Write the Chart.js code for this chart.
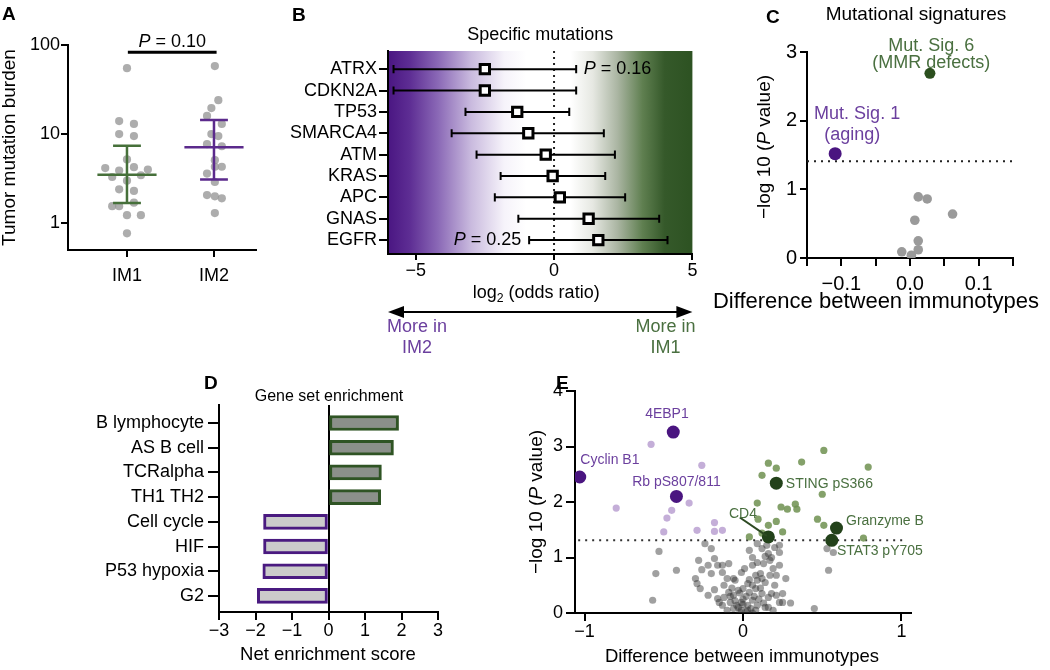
<!DOCTYPE html>
<html>
<head>
<meta charset="utf-8">
<script src="https://cdn.jsdelivr.net/npm/chart.js@4.4.1/dist/chart.umd.min.js"></script>
<style>
html,body{margin:0;padding:0;background:#fff;}
#wrap{position:relative;width:1050px;height:670px;overflow:hidden;background:#fff;}
#wrap canvas{position:absolute;}
.pl{position:absolute;font:bold 19px 'Liberation Sans',Arial,sans-serif;line-height:1;color:#000;}
</style>
</head>
<body>
<div id="wrap">
  <canvas id="cA" width="262" height="300" style="left:0px;top:0px"></canvas>
  <canvas id="cB" width="440" height="360" style="left:262px;top:0px"></canvas>
  <canvas id="cC" width="350" height="320" style="left:700px;top:0px"></canvas>
  <canvas id="cD" width="460" height="295" style="left:0px;top:375px"></canvas>
  <canvas id="cE" width="530" height="295" style="left:520px;top:375px"></canvas>
  <div class="pl" style="left:2px;top:4px">A</div>
  <div class="pl" style="left:292px;top:5px">B</div>
  <div class="pl" style="left:766px;top:7px">C</div>
  <div class="pl" style="left:204px;top:373px">D</div>
  <div class="pl" style="left:556px;top:373px">E</div>
</div>
<script>
// ---------------- DATA ----------------
// Panel A: tumor mutation burden
const groupsA = ['IM1', 'IM2'];
const tmbIM1 = [55, 14, 13, 10, 9.5, 5.2, 4.15, 3.9, 4.25, 4.0, 3.3, 3.0, 3.45, 2.4, 2.3, 1.55, 1.55, 1.7, 1.23, 1.23, 0.77];
const jitIM1 = [1.00, 0.91, 1.08, 0.91, 1.08, 1.00, 0.75, 0.91, 1.08, 1.24, 0.83, 1.00, 1.16, 0.91, 1.08, 0.83, 0.91, 1.08, 1.00, 1.16, 1.00];
const tmbIM2 = [58, 24, 19.6, 16, 13, 10, 9.5, 7.7, 7.3, 5.1, 4.3, 4.3, 3.6, 2.9, 2.07, 2.0, 1.9, 1.3];
const jitIM2 = [2.01, 2.05, 1.97, 1.92, 2.09, 1.97, 2.05, 1.92, 2.09, 2.01, 2.01, 2.09, 1.92, 2.01, 1.92, 2.01, 2.09, 2.01];
const medA = [3.5, 7.1];
const loA = [1.68, 3.1];
const hiA = [7.4, 14.4];
const pA = '0.10';
const pBarY = 83;
const pBarX = [1.01, 2.03];

// Panel B: specific mutations, log2 odds ratio
const genesB = ['ATRX', 'CDKN2A', 'TP53', 'SMARCA4', 'ATM', 'KRAS', 'APC', 'GNAS', 'EGFR'];
const orB = [-2.5, -2.5, -1.33, -0.93, -0.3, -0.05, 0.21, 1.25, 1.6];
const loB = [-5.8, -5.8, -3.2, -3.7, -2.8, -1.93, -2.14, -1.29, -0.9];
const hiB = [0.8, 0.8, 0.55, 1.8, 2.2, 1.85, 2.57, 3.8, 4.1];
const pB = ['0.16', '0.25'];

// Panel C: mutational signatures
const sigGrayC = [[0.012, 0.89], [0.025, 0.86], [0.062, 0.64], [0.007, 0.55], [0.012, 0.25], [-0.012, 0.09], [0.002, 0.04], [0.012, 0.12]];
const sigHiNames = ['Mut. Sig. 1', 'Mut. Sig. 6'];
const sigHiX = [-0.109, 0.029];
const sigHiY = [1.52, 2.69];
const threshC = 1.41;

// Panel D: gene set enrichment
const geneSetsD = ['B lymphocyte', 'AS B cell', 'TCRalpha', 'TH1 TH2', 'Cell cycle', 'HIF', 'P53 hypoxia', 'G2'];
const nesD = [1.92, 1.78, 1.45, 1.43, -1.78, -1.78, -1.8, -1.95];

// Panel E: protein volcano
const hiNamesE = ['4EBP1', 'Cyclin B1', 'Rb pS807/811', 'STING pS366', 'CD4', 'Granzyme B', 'STAT3 pY705'];
const hiXE = [-0.44, -1.03, -0.42, 0.21, 0.16, 0.59, 0.56];
const hiYE = [3.26, 2.45, 2.1, 2.34, 1.37, 1.53, 1.31];
const lightPurpleE = [[-0.58, 3.04], [-0.26, 2.66], [-0.8, 1.89], [-0.45, 1.85], [-0.34, 1.98], [-0.48, 1.71], [-0.5, 1.46], [-0.29, 1.49], [-0.18, 1.63], [-0.18, 1.47], [-0.13, 1.49]];
const lightGreenE = [[0.51, 2.93], [0.16, 2.7], [0.37, 2.72], [0.21, 2.61], [0.79, 2.63], [0.12, 2.48], [0.5, 2.14], [0.09, 1.98], [0.24, 1.91], [0.28, 1.87], [0.33, 1.96], [0.34, 1.87], [0.095, 1.69], [0.16, 1.58], [0.21, 1.65], [0.47, 1.69], [0.51, 1.58], [0.25, 1.46], [0.04, 1.37], [0.12, 1.44], [0.76, 1.35]];
const grayE = [[-0.24,1.25],[-0.20,1.16],[0.09,1.25],[0.12,1.16],[0.04,1.13],[0.16,1.07],[0.23,1.09],[0.23,1.22],[0.06,1.00],[0.09,0.91],
[0.13,0.89],[0.17,0.95],[-0.28,0.95],[-0.18,0.98],[-0.22,0.86],[-0.16,0.86],[-0.13,0.86],[-0.09,0.89],[-0.20,0.71],[-0.13,0.73],
[-0.10,0.62],[-0.05,0.59],[-0.01,0.73],[0.06,0.86],[0.11,0.71],[0.17,0.68],[0.21,0.68],[0.23,0.86],[0.14,0.55],[0.09,0.59],
[0.03,0.53],[-0.30,0.62],[-0.29,0.53],[-0.27,0.44],[-0.22,0.32],[-0.16,0.26],[-0.15,0.19],[-0.09,0.37],[-0.06,0.32],[-0.03,0.41],
[0.00,0.44],[0.04,0.37],[0.08,0.44],[0.12,0.35],[0.16,0.28],[0.21,0.32],[0.23,0.19],[-0.08,0.19],[-0.04,0.14],[-0.01,0.19],
[0.03,0.14],[0.06,0.23],[0.09,0.14],[-0.06,0.08],[-0.01,0.05],[0.03,0.05],[-0.10,0.05],[0.08,0.05],[0.14,0.10],[-0.13,0.14],
[-0.12,0.50],[0.25,0.35],[0.25,0.19],[0.18,0.35],[0.16,0.10],[0.19,0.05],[-0.53,1.11],[-0.55,0.71],[-0.42,0.77],[-0.57,0.23],
[0.45,0.08],[0.54,0.77],[0.53,1.16],[0.57,1.09],
[0.02,0.02],[-0.03,0.10],[0.05,0.08],[0.00,0.25],[-0.05,0.22],[0.10,0.25],[0.02,0.30],[-0.02,0.36],[0.06,0.50],[0.12,0.62],
[-0.07,0.45],[0.19,0.80],[0.14,1.02],[0.20,1.18],[0.08,0.68],[-0.02,0.02],[0.06,0.00],[-0.08,0.30],[0.11,0.45],[0.15,1.22],
[0.18,1.00],[-0.12,0.28],[0.04,0.60],[0.00,0.15],[0.07,0.30],[-0.18,0.42],[-0.26,0.78],[0.30,0.18],[0.27,0.62],[0.20,0.50],
[0.13,0.18],[-0.06,0.62],[0.01,0.80]];
const threshE = 1.31;
const cd4Leader = [[-0.02, 1.72], [0.15, 1.39]];

// ---------------- STYLE / HELPERS ----------------
const FF = "'Liberation Sans', Arial, Helvetica, sans-serif";
const PURPLE = '#4a1580', GREEN = '#23421a';
const PURPLE_TXT = '#6b3f9e', GREEN_TXT = '#4a7040';

function rich(ctx, parts, x, y, size, color, align, rot) {
  ctx.save();
  ctx.translate(x, y);
  if (rot) ctx.rotate(rot);
  ctx.fillStyle = color;
  ctx.textBaseline = 'middle';
  ctx.textAlign = 'left';
  let w = 0;
  const fontOf = p => (p.i ? 'italic ' : '') + (p.sub ? size * 0.68 : size) + 'px ' + FF;
  parts.forEach(p => { ctx.font = fontOf(p); p.w = ctx.measureText(p.t).width; w += p.w; });
  let cx = align === 'center' ? -w / 2 : (align === 'right' ? -w : 0);
  parts.forEach(p => { ctx.font = fontOf(p); ctx.fillText(p.t, cx, p.sub ? size * 0.32 : 0); cx += p.w; });
  ctx.restore();
}

function ax(o) {
  return {
    type: o.type || 'linear', min: o.min, max: o.max, reverse: !!o.reverse, offset: false,
    border: { display: true, color: '#000', width: 2 },
    grid: { display: true, offset: false, drawOnChartArea: !!o.gridColor, color: o.gridColor || 'rgba(0,0,0,0)', lineWidth: 2,
            drawTicks: true, tickLength: o.tl, tickColor: '#000', tickWidth: 2 },
    ticks: { color: '#000', font: { family: FF, size: o.fs }, padding: o.pad, autoSkip: false, maxRotation: 0, minRotation: 0,
             callback: o.cb },
    afterBuildTicks: s => { s.ticks = o.ticks.map(v => ({ value: v })); },
    afterFit: s => {
      if (o.w != null) s.width = o.w;
      if (o.h != null) s.height = o.h;
      s.paddingLeft = 0; s.paddingRight = 0; s.paddingTop = 0; s.paddingBottom = 0;
    }
  };
}

function mk(id, type, datasets, scales, pad, after, before, extra) {
  const options = Object.assign({
    responsive: false, animation: false, events: [],
    layout: { padding: pad },
    plugins: { legend: { display: false }, tooltip: { enabled: false } },
    scales: scales
  }, extra || {});
  return new Chart(document.getElementById(id), {
    type: type, data: { datasets: datasets }, options: options,
    plugins: [{ id: 'ann' + id, beforeDraw: before, afterDraw: after }]
  });
}
const minus = v => String(v).replace('-', '\u2212');
const GAP = { x: NaN, y: NaN };

// ---------------- PANEL A ----------------
(function () {
  const pts = tmbIM1.map((v, i) => ({ x: jitIM1[i], y: v })).concat(tmbIM2.map((v, i) => ({ x: jitIM2[i], y: v })));
  const colA = ['#46703a', '#5b2a8c'];
  const stat = [0, 1].map(i => {
    const c = i + 1, hw = 0.34, cw = 0.16;
    return { type: 'scatter', showLine: true, pointRadius: 0, borderColor: colA[i], borderWidth: 2.5,
      data: [{ x: c - hw, y: medA[i] }, { x: c + hw, y: medA[i] }, GAP,
             { x: c, y: loA[i] }, { x: c, y: hiA[i] }, GAP,
             { x: c - cw, y: loA[i] }, { x: c + cw, y: loA[i] }, GAP,
             { x: c - cw, y: hiA[i] }, { x: c + cw, y: hiA[i] }] };
  });
  const ds = [
    stat[0], stat[1],
    { showLine: true, pointRadius: 0, borderColor: '#000', borderWidth: 3, data: [{ x: pBarX[0], y: pBarY }, { x: pBarX[1], y: pBarY }] },
    { data: pts, pointRadius: 4.1, backgroundColor: 'rgba(150,150,150,0.78)', borderWidth: 0 }
  ];
  mk('cA', 'scatter', ds, {
    x: ax({ min: 0.322, max: 2.483, ticks: [1, 2], cb: v => groupsA[v - 1], tl: 7, pad: 8, fs: 18, h: 40 }),
    y: ax({ type: 'logarithmic', min: 0.5, max: 100, ticks: [1, 10, 100], cb: v => String(v), tl: 7, pad: 1, fs: 18, w: 68 })
  }, { left: 0, top: 45, right: 6, bottom: 10 }, c => {
    const { ctx, scales: { x, y }, chartArea: a } = c;
    const yb = y.getPixelForValue(pBarY);
    rich(ctx, [{ t: 'P', i: 1 }, { t: ' = ' + pA }], x.getPixelForValue((pBarX[0] + pBarX[1]) / 2), yb - 10, 18, '#000', 'center');
    rich(ctx, [{ t: 'Tumor mutation burden' }], 10, (a.top + a.bottom) / 2, 19, '#000', 'center', -Math.PI / 2);
  });
})();

// ---------------- PANEL B ----------------
(function () {
  const cap = 0.19;
  const wh = [];
  genesB.forEach((g, i) => {
    wh.push({ x: loB[i], y: i }, { x: hiB[i], y: i }, GAP,
            { x: loB[i], y: i - cap }, { x: loB[i], y: i + cap }, GAP,
            { x: hiB[i], y: i - cap }, { x: hiB[i], y: i + cap }, GAP);
  });
  const yMin = -0.85, yMax = 8.65;
  const ds = [
    { data: genesB.map((g, i) => ({ x: orB[i], y: i })), pointStyle: 'rect', pointRadius: 6.6, backgroundColor: '#fff', borderColor: '#000', borderWidth: 3 },
    { showLine: true, pointRadius: 0, borderColor: '#000', borderWidth: 2, data: wh },
    { showLine: true, pointRadius: 0, borderColor: '#222', borderWidth: 2, borderDash: [2, 4], data: [{ x: 0, y: yMin }, { x: 0, y: yMax }] }
  ];
  const stops = [[-6, '#4a1682'], [-5.2, '#5e2e94'], [-4.2, '#8a68b6'], [-3.0, '#c9bade'], [-1.8, '#f6f3fa'], [-1.0, '#ffffff'], [0.6, '#ffffff'],
                 [1.4, '#e6e8e2'], [2.3, '#aab5a2'], [3.2, '#5f7f50'], [4.0, '#35592a'], [5, '#2d5222']];
  mk('cB', 'scatter', ds, {
    x: ax({ min: -6, max: 5, ticks: [-5, 0, 5], cb: v => minus(v), tl: 6, pad: 0, fs: 18, h: 40 }),
    y: ax({ min: yMin, max: yMax, reverse: true, ticks: [0, 1, 2, 3, 4, 5, 6, 7, 8], cb: v => genesB[v], tl: 9, pad: 2, fs: 18, w: 126 })
  }, { left: 0, top: 51, right: 7, bottom: 66 }, c => {
    const { ctx, chartArea: a, scales: { x, y } } = c;
    const cx = (a.left + a.right) / 2;
    rich(ctx, [{ t: 'Specific mutations' }], cx, a.top - 16, 18, '#000', 'center');
    rich(ctx, [{ t: 'log' }, { t: '2', sub: 1 }, { t: ' (odds ratio)' }], cx - 4, a.bottom + 39, 18, '#000', 'center');
    rich(ctx, [{ t: 'P', i: 1 }, { t: ' = ' + pB[0] }], x.getPixelForValue(1.07), y.getPixelForValue(0), 18, '#000', 'left');
    rich(ctx, [{ t: 'P', i: 1 }, { t: ' = ' + pB[1] }], x.getPixelForValue(-1.18), y.getPixelForValue(8), 18, '#000', 'right');
    const ay = a.bottom + 58;
    ctx.save();
    ctx.strokeStyle = '#000'; ctx.fillStyle = '#000'; ctx.lineWidth = 2;
    ctx.beginPath(); ctx.moveTo(a.left + 10, ay); ctx.lineTo(a.right - 10, ay); ctx.stroke();
    ctx.beginPath(); ctx.moveTo(a.left, ay); ctx.lineTo(a.left + 16, ay - 6); ctx.lineTo(a.left + 16, ay + 6); ctx.closePath(); ctx.fill();
    ctx.beginPath(); ctx.moveTo(a.right, ay); ctx.lineTo(a.right - 16, ay - 6); ctx.lineTo(a.right - 16, ay + 6); ctx.closePath(); ctx.fill();
    ctx.restore();
    rich(ctx, [{ t: 'More in' }], a.left + 29, ay + 15, 18, PURPLE_TXT, 'center');
    rich(ctx, [{ t: 'IM2' }], a.left + 29, ay + 36, 18, PURPLE_TXT, 'center');
    rich(ctx, [{ t: 'More in' }], a.right - 27, ay + 15, 18, GREEN_TXT, 'center');
    rich(ctx, [{ t: 'IM1' }], a.right - 27, ay + 36, 18, GREEN_TXT, 'center');
  }, c => {
    const { ctx, chartArea: a, scales: { x } } = c;
    const g = ctx.createLinearGradient(a.left, 0, a.right, 0);
    stops.forEach(s => g.addColorStop(Math.min(1, Math.max(0, (x.getPixelForValue(s[0]) - a.left) / (a.right - a.left))), s[1]));
    ctx.save(); ctx.fillStyle = g; ctx.fillRect(a.left, a.top, a.right - a.left, a.bottom - a.top); ctx.restore();
  });
})();

// ---------------- PANEL C ----------------
(function () {
  const ds = [
    { data: sigHiX.map((v, i) => ({ x: v, y: sigHiY[i] })), pointRadius: [6.5, 5.5], backgroundColor: [PURPLE, '#2b4f1e'], borderWidth: 0 },
    { data: sigGrayC.map(p => ({ x: p[0], y: p[1] })), pointRadius: 4.8, backgroundColor: '#9a9a9a', borderWidth: 0 },
    { showLine: true, pointRadius: 0, borderColor: '#222', borderWidth: 2, borderDash: [2, 5], data: [{ x: -0.15, y: threshC }, { x: 0.15, y: threshC }] }
  ];
  const labs = { '-10': '\u22120.1', '0': '0.0', '10': '0.1' };
  mk('cC', 'scatter', ds, {
    x: ax({ min: -0.15, max: 0.15, ticks: [-0.15, -0.1, -0.05, 0, 0.05, 0.1, 0.15], cb: v => labs[String(Math.round(v * 100))] || '', tl: 8, pad: 6, fs: 20, h: 40 }),
    y: ax({ min: 0, max: 3, ticks: [0, 1, 2, 3], cb: v => String(v), tl: 7, pad: 3, fs: 20, w: 107 })
  }, { left: 0, top: 52, right: 37, bottom: 22 }, c => {
    const { ctx, chartArea: a, scales: { x, y } } = c;
    rich(ctx, [{ t: 'Mutational signatures' }], a.left + 109, 15, 19, '#000', 'center');
    rich(ctx, [{ t: sigHiNames[1] }], x.getPixelForValue(0.031), y.getPixelForValue(3.09), 18, GREEN_TXT, 'center');
    rich(ctx, [{ t: '(MMR defects)' }], x.getPixelForValue(0.031), y.getPixelForValue(2.84), 18, GREEN_TXT, 'center');
    rich(ctx, [{ t: sigHiNames[0] }], x.getPixelForValue(-0.077), y.getPixelForValue(2.10), 18, PURPLE_TXT, 'center');
    rich(ctx, [{ t: '(aging)' }], x.getPixelForValue(-0.084), y.getPixelForValue(1.79), 18, PURPLE_TXT, 'center');
    rich(ctx, [{ t: '\u2212log 10 (' }, { t: 'P', i: 1 }, { t: ' value)' }], 65, 147, 19, '#000', 'center', -Math.PI / 2);
    rich(ctx, [{ t: 'Difference between immunotypes' }], 176, 302, 22, '#000', 'center');
  });
})();

// ---------------- PANEL D ----------------
(function () {
  const ds = [{
    data: nesD.map((v, i) => ({ x: v, y: i })),
    backgroundColor: nesD.map(v => v > 0 ? '#8b908a' : '#cbcbcb'),
    borderColor: nesD.map(v => v > 0 ? '#2f5424' : '#4a1a80'),
    borderWidth: 3, borderSkipped: false, barThickness: 15, base: 0
  }];
  mk('cD', 'bar', ds, {
    x: ax({ min: -3, max: 3, ticks: [-3, -2, -1, 0, 1, 2, 3], cb: v => minus(v), tl: 8, pad: 0, fs: 18, h: 40,
            gridColor: ctx => (ctx.tick && ctx.tick.value === 0) ? '#000' : 'rgba(0,0,0,0)' }),
    y: ax({ min: -0.73, max: 7.65, reverse: true, ticks: [0, 1, 2, 3, 4, 5, 6, 7], cb: v => geneSetsD[v], tl: 11, pad: 4, fs: 18, w: 219 })
  }, { left: 0, top: 30, right: 22, bottom: 18 }, c => {
    const { ctx } = c;
    rich(ctx, [{ t: 'Gene set enrichment' }], 329, 22, 16, '#000', 'center');
    rich(ctx, [{ t: 'Net enrichment score' }], 328, 280, 18.5, '#000', 'center');
  }, undefined, { indexAxis: 'y' });
})();

// ---------------- PANEL E ----------------
(function () {
  const hiCol = hiNamesE.map((n, i) => i < 3 ? PURPLE : GREEN);
  const ds = [
    { showLine: true, pointRadius: 0, borderColor: '#2d4a22', borderWidth: 2, data: cd4Leader.map(p => ({ x: p[0], y: p[1] })) },
    { data: hiXE.map((v, i) => ({ x: v, y: hiYE[i] })), pointRadius: 6.5, backgroundColor: hiCol, borderWidth: 0 },
    { data: lightGreenE.map(p => ({ x: p[0], y: p[1] })), pointRadius: 3.6, backgroundColor: 'rgba(110,145,80,0.85)', borderWidth: 0 },
    { data: lightPurpleE.map(p => ({ x: p[0], y: p[1] })), pointRadius: 3.6, backgroundColor: 'rgba(190,165,212,0.9)', borderWidth: 0 },
    { showLine: true, pointRadius: 0, borderColor: '#333', borderWidth: 2, borderDash: [2, 5], data: [{ x: -1.04, y: threshE }, { x: 1.02, y: threshE }] },
    { data: grayE.map(p => ({ x: p[0], y: p[1] })), pointRadius: 3.6, backgroundColor: 'rgba(45,45,45,0.45)', borderWidth: 0 }
  ];
  mk('cE', 'scatter', ds, {
    x: ax({ min: -1.06, max: 1.06, ticks: [-1, 0, 1], cb: v => minus(v), tl: 8, pad: 0, fs: 18, h: 40 }),
    y: ax({ min: 0, max: 4, ticks: [0, 1, 2, 3, 4], cb: v => String(v), tl: 9, pad: 3, fs: 18, w: 55 })
  }, { left: 0, top: 16, right: 139, bottom: 17 }, c => {
    const { ctx, scales: { x, y } } = c;
    const L = (t, xv, yv, col, al) => rich(ctx, [{ t: t }], x.getPixelForValue(xv), y.getPixelForValue(yv), 14, col, al);
    L(hiNamesE[0], -0.48, 3.58, PURPLE_TXT, 'center');
    L(hiNamesE[1], -0.84, 2.75, PURPLE_TXT, 'center');
    L(hiNamesE[2], -0.42, 2.35, PURPLE_TXT, 'center');
    L(hiNamesE[3], 0.27, 2.33, GREEN_TXT, 'left');
    L(hiNamesE[4], 0.0, 1.79, GREEN_TXT, 'center');
    L(hiNamesE[5], 0.65, 1.65, GREEN_TXT, 'left');
    L(hiNamesE[6], 0.593, 1.11, GREEN_TXT, 'left');
    rich(ctx, [{ t: '\u2212log 10 (' }, { t: 'P', i: 1 }, { t: ' value)' }], 17, 127, 19, '#000', 'center', -Math.PI / 2);
    rich(ctx, [{ t: 'Difference between immunotypes' }], 222, 282, 18.5, '#000', 'center');
  });
})();
</script>
</body>
</html>
